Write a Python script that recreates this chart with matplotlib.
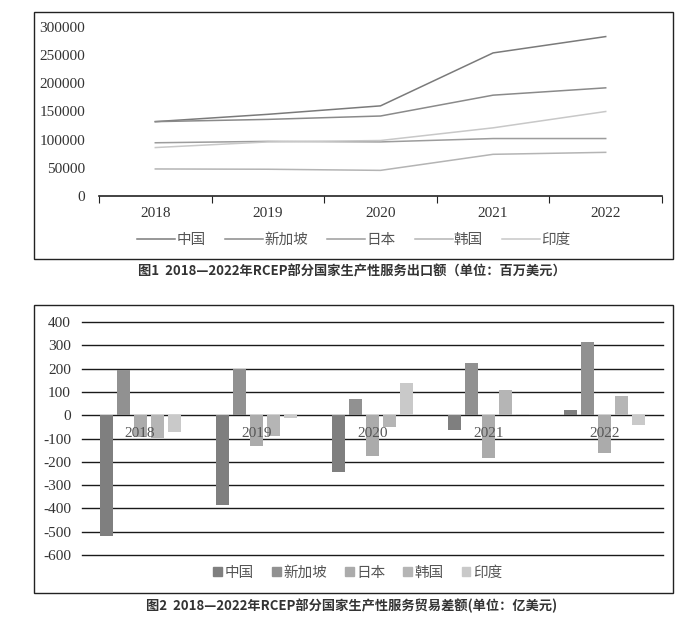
import matplotlib
matplotlib.use("Agg")
import matplotlib.pyplot as plt
from matplotlib.patches import Rectangle
from matplotlib.lines import Line2D
import numpy as np

plt.rcParams['font.family'] = ['Noto Sans CJK SC', 'DejaVu Sans']

years = ['2018', '2019', '2020', '2021', '2022']
countries = ['中国', '新加坡', '日本', '韩国', '印度']

# Fig 1: productive services exports (million USD)
exp_china = [132000, 145000, 160000, 254000, 283000]
exp_singapore = [132000, 136000, 142000, 179000, 192000]
exp_japan = [94500, 97000, 96000, 102000, 102000]
exp_korea = [48000, 47500, 45500, 74000, 77500]
exp_india = [86000, 96000, 98500, 121000, 150000]
exports = [exp_china, exp_singapore, exp_japan, exp_korea, exp_india]

# Fig 2: productive services trade balance (100 million USD)
bal_china = [-520, -385, -245, -63, 23]
bal_singapore = [193, 200, 70, 225, 315]
bal_japan = [-95, -132, -175, -182, -163]
bal_korea = [-97, -89, -49, 109, 83]
bal_india = [-74, -10, 138, 4, -40]
balances = [bal_china, bal_singapore, bal_japan, bal_korea, bal_india]

line_colors = ['#7a7a7a', '#8a8a8a', '#9c9c9c', '#b4b4b4', '#c8c8c8']
bar_colors = ['#7f7f7f', '#919191', '#ababab', '#b5b5b5', '#c9c9c9']

W, H = 683, 619
fig = plt.figure(figsize=(W / 100, H / 100), dpi=100)

def fx(px):
    return px / W

def fy(py):
    return 1 - py / H

serif = 'Liberation Serif'
numcol = '#333333'

# Frames
fig.patches.append(Rectangle((fx(34), fy(259)), fx(673) - fx(34), fy(12) - fy(259),
                             transform=fig.transFigure, fill=False, lw=1.0, ec='#222222'))
fig.patches.append(Rectangle((fx(34), fy(593)), fx(673) - fx(34), fy(305) - fy(593),
                             transform=fig.transFigure, fill=False, lw=1.0, ec='#222222'))

# ---------- Top chart ----------
ax1 = fig.add_axes([fx(99), fy(196), fx(662) - fx(99), fy(27) - fy(196)])
x = np.arange(len(years))
for vals, c, lab in zip(exports, line_colors, countries):
    ax1.plot(x, vals, color=c, lw=1.1, label=lab)
ax1.set_xlim(-0.5, 4.5)
ax1.set_ylim(0, 300000)
ax1.set_yticks(np.arange(0, 300001, 50000))
ax1.set_yticklabels([str(v) for v in range(0, 300001, 50000)], fontfamily=serif,
                    fontsize=11, color=numcol)
ax1.tick_params(axis='y', length=0, pad=10)
ax1.set_xticks(np.arange(-0.5, 5, 1.0))
ax1.set_xticks(x, minor=True)
ax1.set_xticklabels([])
ax1.set_xticklabels(years, minor=True, fontfamily=serif, fontsize=11, color=numcol)
ax1.tick_params(axis='x', which='major', direction='out', length=5, color='#222222')
ax1.tick_params(axis='x', which='minor', length=0, pad=8)
for s in ['top', 'right', 'left']:
    ax1.spines[s].set_visible(False)
ax1.spines['bottom'].set_color('#222222')
ax1.spines['bottom'].set_linewidth(1.2)

handles = [Line2D([0], [0], color=c, lw=1.1) for c in line_colors]
fig.legend(handles, countries, loc='center', bbox_to_anchor=(fx(354), fy(240)),
           ncol=5, frameon=False, fontsize=10.5, handlelength=2.6, handletextpad=0.1,
           columnspacing=1.3, labelcolor='#555555')

fig.text(fx(352), fy(271), '图1  2018—2022年RCEP部分国家生产性服务出口额（单位：百万美元）',
         ha='center', va='center', fontsize=9.5, fontweight='bold', color='#333333')

# ---------- Bottom chart ----------
ax2 = fig.add_axes([fx(82), fy(555), fx(663) - fx(82), fy(322) - fy(555)])
bw = 0.112
step = 0.146
for i, (vals, c, lab) in enumerate(zip(balances, bar_colors, countries)):
    ax2.bar(x + (i - 2) * step, vals, width=bw, color=c, label=lab, zorder=3)
ax2.set_xlim(-0.5, 4.5)
ax2.set_ylim(-600, 400)
yt = np.arange(-600, 401, 100)
ax2.set_yticks(yt)
ax2.set_yticklabels([str(v) for v in yt], fontfamily=serif,
                    fontsize=11, color=numcol)
ax2.tick_params(axis='y', length=0, pad=8)
ax2.grid(axis='y', color='#1a1a1a', lw=1.0, zorder=1)
for gl in ax2.yaxis.get_gridlines():
    gl.set_clip_on(False)
ax2.set_axisbelow(True)
for s in ['top', 'right', 'left', 'bottom']:
    ax2.spines[s].set_visible(False)
ax2.set_xticks(x)
ax2.set_xticklabels([])
for xi, yr in zip(x, years):
    ax2.text(xi, -78, yr, ha='center', va='center', fontfamily=serif, fontsize=11,
             color='#555555', zorder=5)
ax2.tick_params(axis='x', length=0)

fig.legend([Rectangle((0, 0), 1, 1, color=c) for c in bar_colors], countries,
           loc='center', bbox_to_anchor=(fx(358), fy(573)), ncol=5, frameon=False,
           fontsize=10.5, handlelength=0.6, handleheight=0.6, handletextpad=0.2,
           columnspacing=1.2, labelcolor='#555555')

fig.text(fx(352), fy(606), '图2  2018—2022年RCEP部分国家生产性服务贸易差额(单位：亿美元)',
         ha='center', va='center', fontsize=9.5, fontweight='bold', color='#333333')

fig.savefig('out.png', dpi=100)
